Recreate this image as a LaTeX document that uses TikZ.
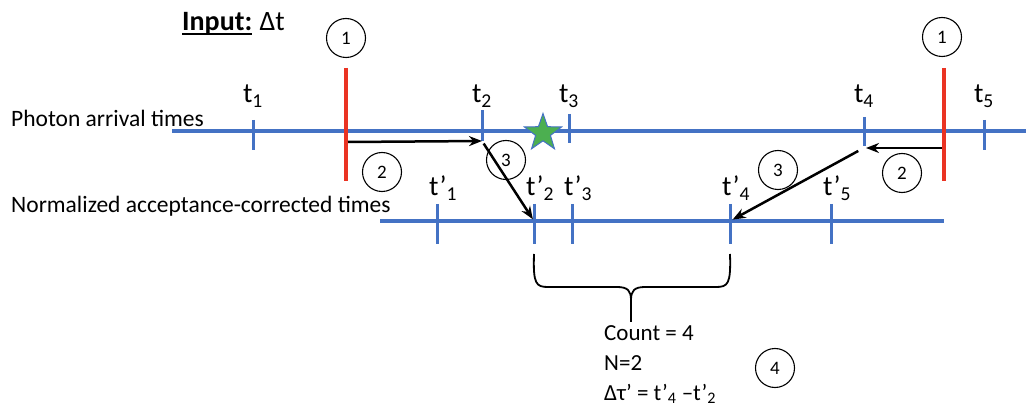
\documentclass[tikz,border=0pt]{standalone}
\usepackage{fontspec}
\setmainfont{Carlito}
\usetikzlibrary{arrows.meta, positioning, calc, shapes.geometric}
\definecolor{axisblue}{RGB}{68,114,196}
\definecolor{cutred}{RGB}{234,51,35}
\definecolor{stargreen}{RGB}{76,175,80}

\begin{document}
\begin{tikzpicture}[x=1pt, y=-1pt,
  timeline/.style={axisblue, line width=3.5pt},
  tickmark/.style={axisblue, line width=3pt},
  cutline/.style={cutred, line width=4.5pt},
  maparrow/.style={-{Stealth[length=13pt, width=10pt]}, line width=2.5pt},
  stepnum/.style={circle, draw, line width=1.1pt, minimum size=39pt, inner sep=0pt, font=\fontsize{19}{19}\selectfont},
  tlabel/.style={anchor=base, inner sep=0pt, font=\fontsize{28}{28}\selectfont},
  tplabel/.style={anchor=base west, inner sep=0pt, font=\fontsize{28}{28}\selectfont},
  rowlabel/.style={anchor=base west, inner sep=0pt, font=\fontsize{23.5}{23.5}\selectfont},
  notetext/.style={anchor=base west, inner sep=0pt, font=\fontsize{23}{23}\selectfont}]
  \useasboundingbox (0,0) rectangle (1026,414);

  % title
  \node (inp) [anchor=base west, inner sep=0pt, font=\fontsize{28}{28}\selectfont\bfseries] at (182,31) {Input:};
  \node (dt) [inner sep=0pt, font=\fontsize{28}{28}\selectfont, right=7pt of inp.base east, anchor=base west] {Δt};
  \draw[line width=1.6pt] ($(inp.base west)+(0,3)$) -- ($(inp.base east)+(0,3)$);

  % the two time axes
  \node (row1) [rowlabel] at (11,127) {Photon arrival times};
  \node (row2) [rowlabel] at (11,213) {Normalized acceptance-corrected times};
  \draw[timeline] (172,131) -- (1026,131);
  \draw[timeline] (380,221) -- (944,221);

  % photon ticks
  \foreach \n/\x/\a/\b in {1/253/120/150, 2/482/110/141, 3/569/114/143, 4/864/117/146, 5/984/120/150} {
    \draw[tickmark] (\x,\a) coordinate (t\n top) -- (\x,\b) coordinate (t\n bot);
    \node (lt\n) [tlabel] at (\x,103) {t\textsubscript{\n}};
  }
  % corrected ticks
  \foreach \n/\x in {1/437, 2/534, 3/572, 4/730, 5/831} {
    \draw[tickmark] (\x,204) coordinate (tp\n top) -- (\x,244) coordinate (tp\n bot);
    \coordinate (tp\n) at (\x,221);
    \node (ltp\n) [tplabel] at (\x-8,196) {t’\textsubscript{\n}};
  }

  % acceptance window
  \draw[cutline] (346,68) coordinate (cutLtop) -- (346,181) coordinate (cutLbot);
  \draw[cutline] (944,68) coordinate (cutRtop) -- (944,181) coordinate (cutRbot);
  \coordinate (fromL) at (348,142);
  \coordinate (fromR) at (942,148);

  % source position
  \node (src) [star, star points=5, star point ratio=2.5, minimum size=39pt, inner sep=0pt,
    fill=stargreen, draw=axisblue, line width=1pt] at (543,133) {};

  % mapping arrows
  \draw[maparrow] (fromL) -- (t2bot);
  \draw[maparrow, shorten <=3pt, shorten >=2pt] (t2bot) -- (tp2);
  \draw[maparrow] (fromR) -- (866,148) coordinate (t4in);
  \draw[maparrow, shorten <=2pt, shorten >=3pt] (860,150) coordinate (t4out) -- (tp4);

  % step numbers
  \node (s1a) [stepnum] at (346,38) {1};
  \node (s1b) [stepnum] at (942,37) {1};
  \node (s2a) [stepnum] at (382,172) {2};
  \node (s2b) [stepnum] at (902,173) {2};
  \node (s3a) [stepnum] at (506,160) {3};
  \node (s3b) [stepnum] at (778,170) {3};
  \node (s4) [stepnum] at (775,368) {4};

  % brace over the counted interval
  \draw[line width=1.8pt] (534,254) .. controls (533,284) and (536,287) .. (548,287) -- (617,287)
    .. controls (628,287) and (631,291) .. (631,300)
    .. controls (631,291) and (634,287) .. (645,287) -- (716,287)
    .. controls (728,287) and (731,284) .. (730,254);
  \draw[line width=1.8pt] (631,300) -- (631,322) coordinate (braceTip);

  % result
  \node (cnt) [notetext] at (604,341) {Count = 4};
  \node (nn) [notetext] at (604,370) {N=2};
  \node (dtau) [notetext] at (604,400) {Δτ’ = t’\textsubscript{4} –t’\textsubscript{2}};
\end{tikzpicture}
\end{document}
